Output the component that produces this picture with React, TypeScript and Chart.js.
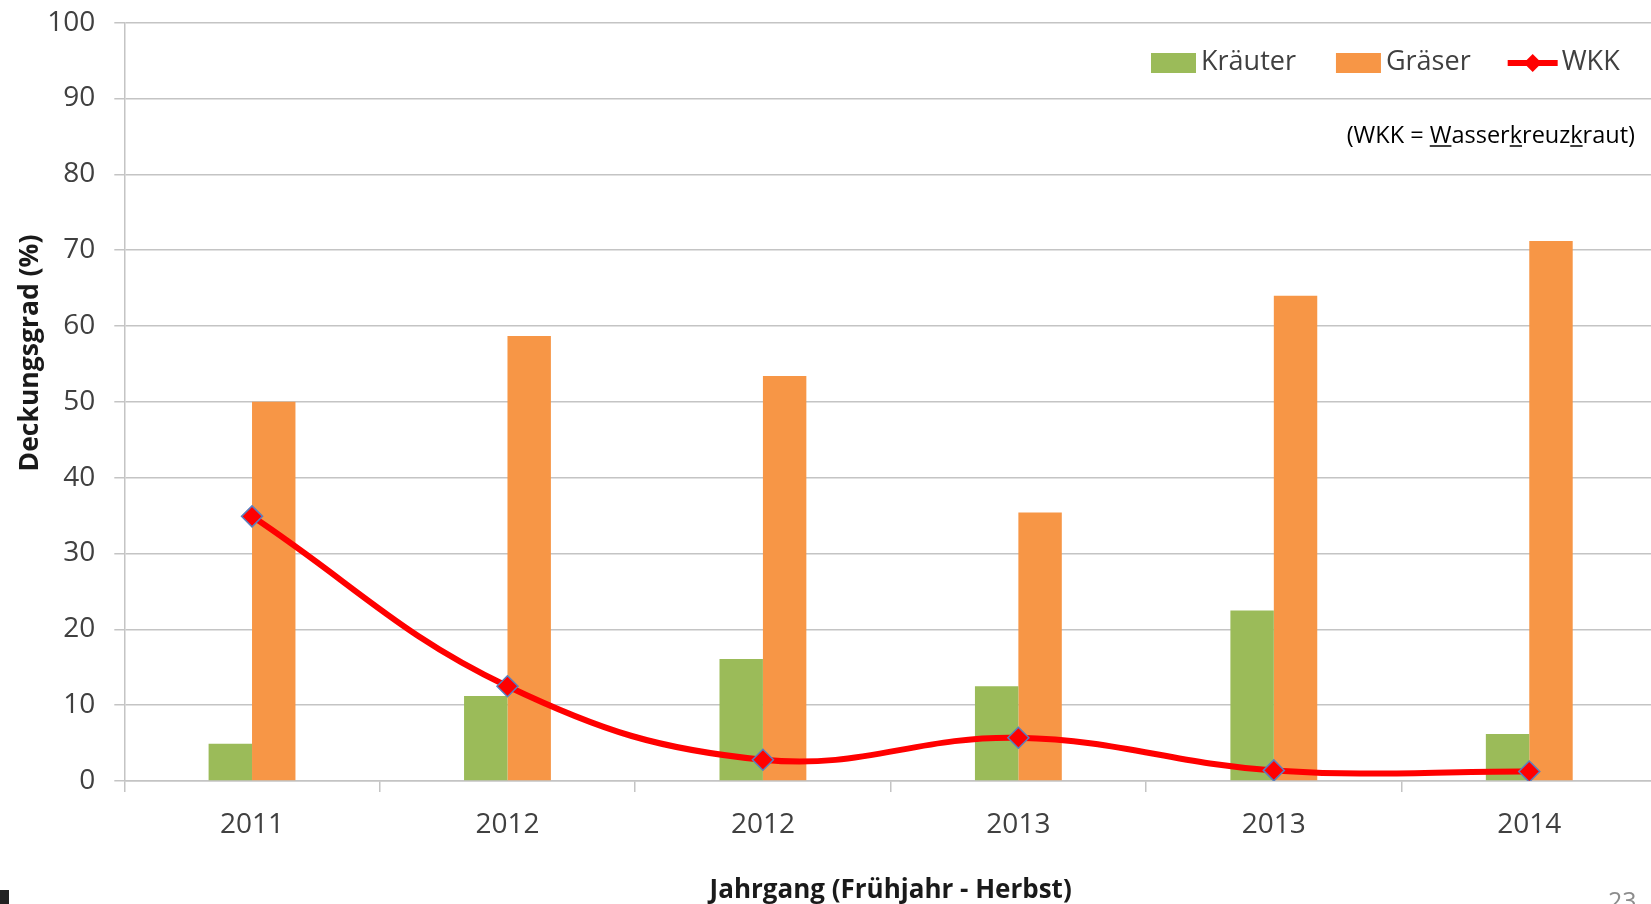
import React, { useEffect, useRef } from 'react';
import { Chart, registerables } from 'chart.js';

Chart.register(...registerables);

// ---- data ----
const categories = ['2011', '2012', '2012', '2013', '2013', '2014'];
const kraeuter = [4.9, 11.2, 16.1, 12.5, 22.5, 6.2];
const graeser = [50.0, 58.7, 53.4, 35.4, 64.0, 71.2];
const wkk = [34.9, 12.5, 2.8, 5.7, 1.4, 1.25];
const seriesNames = ['Kräuter', 'Gräser', 'WKK'];
const yMin = 0;
const yMax = 100;
const yStep = 10;
const yTitle = 'Deckungsgrad (%)';
const xTitle = 'Jahrgang (Frühjahr - Herbst)';
const notePrefix = '(WKK = ';
const noteParts = ['W', 'asser', 'k', 'reuz', 'k', 'raut'];
const noteUnderlined = [true, false, true, false, true, false];
const noteSuffix = ')';
const pageNumber = '23';

// ---- styles ----
const FONT = '"Open Sans", "Noto Sans", sans-serif';
const GREEN = '#9BBB59';
const ORANGE = '#F79646';
const RED = '#FF0000';
const POINT_BORDER = '#5A7FBF';
const GRID = '#c4c4c4';
const TICK_COLOR = '#404040';
const TITLE_COLOR = '#1a1a1a';

const decorPlugin = {
  id: 'decor',
  afterDraw(chart: any) {
    const ctx = chart.ctx as CanvasRenderingContext2D;
    ctx.save();

    // ---- legend (inside plot, top right) ----
    ctx.font = `27px ${FONT}`;
    ctx.textBaseline = 'middle';
    ctx.textAlign = 'left';
    let x = 1151;
    const yc = 63;
    const gaps = [40, 37, 0];
    chart.data.datasets.forEach((ds: any, i: number) => {
      const isLine = ds.type === 'line';
      if (isLine) {
        ctx.strokeStyle = ds.borderColor;
        ctx.lineWidth = 6;
        ctx.beginPath();
        ctx.moveTo(x, yc);
        ctx.lineTo(x + 50, yc);
        ctx.stroke();
        const r = 9;
        const cx = x + 25;
        ctx.fillStyle = ds.pointBackgroundColor;
        ctx.beginPath();
        ctx.moveTo(cx - r, yc);
        ctx.lineTo(cx, yc - r);
        ctx.lineTo(cx + r, yc);
        ctx.lineTo(cx, yc + r);
        ctx.closePath();
        ctx.fill();
        x += 54;
      } else {
        ctx.fillStyle = ds.backgroundColor;
        ctx.fillRect(x, yc - 10, 45, 20);
        x += 50;
      }
      ctx.fillStyle = TICK_COLOR;
      ctx.fillText(seriesNames[i], x, yc - 1);
      x += ctx.measureText(seriesNames[i]).width + gaps[i];
    });

    // ---- note with underlined letters ----
    ctx.font = `23.5px ${FONT}`;
    ctx.fillStyle = '#000';
    ctx.strokeStyle = '#000';
    ctx.textBaseline = 'alphabetic';
    ctx.textAlign = 'left';
    const full = notePrefix + noteParts.join('') + noteSuffix;
    const totalW = ctx.measureText(full).width;
    const nx = 1635 - totalW;
    const base = 143;
    ctx.fillText(full, nx, base);
    let acc = notePrefix;
    ctx.lineWidth = 1.5;
    noteParts.forEach((p, i) => {
      const sx = nx + ctx.measureText(acc).width;
      const w = ctx.measureText(p).width;
      if (noteUnderlined[i]) {
        ctx.beginPath();
        ctx.moveTo(sx, base + 3);
        ctx.lineTo(sx + w, base + 3);
        ctx.stroke();
      }
      acc += p;
    });

    // ---- y axis title ----
    ctx.save();
    ctx.font = `bold 26.5px ${FONT}`;
    ctx.fillStyle = TITLE_COLOR;
    ctx.textAlign = 'center';
    ctx.textBaseline = 'middle';
    ctx.translate(30, 353);
    ctx.rotate(-Math.PI / 2);
    ctx.fillText(yTitle, 0, 0);
    ctx.restore();

    // ---- page number (cut off at bottom) ----
    ctx.font = `25px ${FONT}`;
    ctx.fillStyle = '#8c8c8c';
    ctx.textAlign = 'left';
    ctx.textBaseline = 'alphabetic';
    ctx.fillText(pageNumber, 1608, 910);

    // ---- cut-off logo fragment at bottom left ----
    ctx.fillStyle = '#222222';
    ctx.fillRect(0, 890, 9, 14);

    ctx.restore();
  },
};

export default function App() {
  const canvasRef = useRef<HTMLCanvasElement | null>(null);

  useEffect(() => {
    document.body.style.margin = '0';
    document.body.style.background = '#ffffff';
    let chart: Chart | null = null;
    let cancelled = false;

    const build = () => {
      if (cancelled || !canvasRef.current) return;
      chart = new Chart(canvasRef.current, {
        type: 'bar',
        data: {
          labels: categories,
          datasets: [
            {
              type: 'bar',
              label: seriesNames[0],
              data: kraeuter,
              backgroundColor: GREEN,
              borderWidth: 0,
              categoryPercentage: 0.34,
              barPercentage: 1,
              order: 2,
            },
            {
              type: 'bar',
              label: seriesNames[1],
              data: graeser,
              backgroundColor: ORANGE,
              borderWidth: 0,
              categoryPercentage: 0.34,
              barPercentage: 1,
              order: 2,
            },
            {
              type: 'line',
              label: seriesNames[2],
              data: wkk,
              borderColor: RED,
              backgroundColor: RED,
              borderWidth: 6,
              tension: 0.4,
              fill: false,
              pointStyle: 'rectRot',
              pointRadius: 10.5,
              pointBackgroundColor: RED,
              pointBorderColor: POINT_BORDER,
              pointBorderWidth: 1.5,
              order: 1,
            } as any,
          ],
        },
        options: {
          responsive: false,
          animation: false,
          devicePixelRatio: 1,
          layout: { autoPadding: false, padding: { top: 22.7, left: 0, right: 0, bottom: 0 } },
          plugins: {
            legend: { display: false },
            tooltip: { enabled: false },
          },
          scales: {
            x: {
              grid: {
                display: true,
                drawOnChartArea: false,
                drawTicks: true,
                tickLength: 11,
                color: GRID,
                lineWidth: 1.5,
                offset: true,
              },
              border: { display: true, color: GRID, width: 1.5 },
              ticks: {
                font: { family: FONT, size: 28 },
                color: TICK_COLOR,
                padding: 16,
                maxRotation: 0,
                autoSkip: false,
              },
              title: {
                display: true,
                text: xTitle,
                font: { family: FONT, size: 26, weight: 'bold', lineHeight: 1.05 },
                color: TITLE_COLOR,
                padding: { top: 0, bottom: 0 },
              },
              afterFit: (s: any) => {
                s.height = 123;
                s.paddingLeft = 0;
                s.paddingRight = 0;
              },
            },
            y: {
              min: yMin,
              max: yMax,
              ticks: {
                stepSize: yStep,
                font: { family: FONT, size: 28 },
                color: TICK_COLOR,
                padding: 19,
              },
              grid: { color: GRID, lineWidth: 1.5, tickLength: 10 },
              border: { display: true, color: GRID, width: 1.5 },
              afterFit: (s: any) => {
                s.width = 124.3;
                s.paddingTop = 0;
                s.paddingBottom = 0;
              },
            },
          },
        },
        plugins: [decorPlugin],
      });
    };

    const fonts: any = (document as any).fonts;
    if (fonts && fonts.load) {
      Promise.all([
        fonts.load(`28px "Open Sans"`),
        fonts.load(`bold 26px "Open Sans"`),
      ])
        .catch(() => undefined)
        .then(build);
    } else {
      build();
    }

    return () => {
      cancelled = true;
      if (chart) chart.destroy();
    };
  }, []);

  return (
    <div style={{ width: 1651, height: 904, overflow: 'hidden', position: 'relative', background: '#ffffff' }}>
      <canvas ref={canvasRef} width={1657} height={904} style={{ display: 'block' }} />
    </div>
  );
}
